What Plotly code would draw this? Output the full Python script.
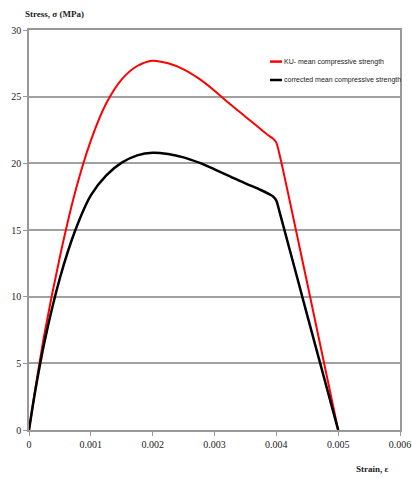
import plotly.graph_objects as go

# Strain values (mm/mm) shared by both curves
strain = [0, 0.0001, 0.00025, 0.0005, 0.00075, 0.001, 0.00125, 0.0015, 0.00175,
          0.002, 0.00225, 0.0025, 0.00275, 0.003, 0.00325, 0.0035, 0.00375,
          0.0039, 0.00395, 0.004, 0.00405, 0.0045, 0.005]

# Stress (MPa) for KU mean compressive strength
stress_ku = [0, 3.0, 7.2, 13.0, 17.9, 21.7, 24.5, 26.3, 27.3,
             27.7, 27.5, 27.05, 26.35, 25.45, 24.45, 23.5, 22.55,
             22.0, 21.85, 21.55, 20.7, 11.0, 0]

# Stress (MPa) for corrected mean compressive strength
stress_corr = [0, 2.9, 6.6, 11.4, 15.0, 17.6, 19.1, 20.05, 20.6,
               20.8, 20.7, 20.45, 20.05, 19.55, 19.03, 18.5, 18.0,
               17.65, 17.5, 17.2, 16.4, 8.6, 0]

series_names = ["KU- mean compressive strength", "corrected mean compressive strength"]
series_colors = ["#ff0000", "#000000"]

x_ticks = [0, 0.001, 0.002, 0.003, 0.004, 0.005, 0.006]
x_tick_text = ["0", "0.001", "0.002", "0.003", "0.004", "0.005", "0.006"]
y_ticks = [0, 5, 10, 15, 20, 25, 30]

fig = go.Figure()
for ys, name, color, w in zip([stress_ku, stress_corr], series_names, series_colors, [2, 2.5]):
    fig.add_trace(go.Scatter(
        x=strain, y=ys, mode="lines", name=name,
        line=dict(color=color, width=w, shape="spline", smoothing=0.9),
        showlegend=False,
    ))

serif = "Liberation Serif, Times New Roman, serif"
sans = "Liberation Sans Narrow, Arial Narrow, Liberation Sans, sans-serif"

fig.update_layout(
    width=412, height=478,
    margin=dict(l=29, r=12, t=30, b=48),
    paper_bgcolor="white", plot_bgcolor="white",
    font=dict(family=serif, size=10, color="#222"),
    xaxis=dict(
        range=[0, 0.006], tickvals=x_ticks, ticktext=x_tick_text,
        showgrid=False, zeroline=False, automargin=False,
        showline=True, linecolor="#999", linewidth=1.5, mirror=True,
        ticks="outside", ticklen=4, tickcolor="#999",
        tickfont=dict(family=serif, size=10, color="#222"),
    ),
    yaxis=dict(
        range=[0, 30], tickvals=y_ticks, automargin=False,
        showgrid=True, gridcolor="#a0a0a0", gridwidth=1.5, zeroline=False,
        showline=True, linecolor="#999", linewidth=1.5, mirror=True,
        ticks="outside", ticklen=4, tickcolor="#999",
        tickfont=dict(family=serif, size=10, color="#222"),
    ),
)

# Axis titles
fig.add_annotation(text="<b>Stress, σ (MPa)</b>", xref="paper", yref="paper",
                   x=-0.016, y=1.04, xanchor="left", yanchor="middle",
                   showarrow=False, font=dict(family=serif, size=9, color="#222"))
fig.add_annotation(text="<b>Strain, ε</b>", xref="paper", yref="paper",
                   x=0.926, y=-0.0975, xanchor="center", yanchor="middle",
                   showarrow=False, font=dict(family=serif, size=9, color="#222"))

# Legend keys and labels
legend_y = [0.921, 0.875]
for name, color, ly in zip(series_names, series_colors, legend_y):
    fig.add_shape(type="line", xref="paper", yref="paper",
                  x0=0.6496, x1=0.682, y0=ly, y1=ly,
                  line=dict(color=color, width=2.5))
    fig.add_annotation(text=name, xref="paper", yref="paper",
                       x=0.683, y=ly, xanchor="left", yanchor="middle",
                       showarrow=False, font=dict(family=sans, size=7, color="#222"))

fig.write_html("out.html")
